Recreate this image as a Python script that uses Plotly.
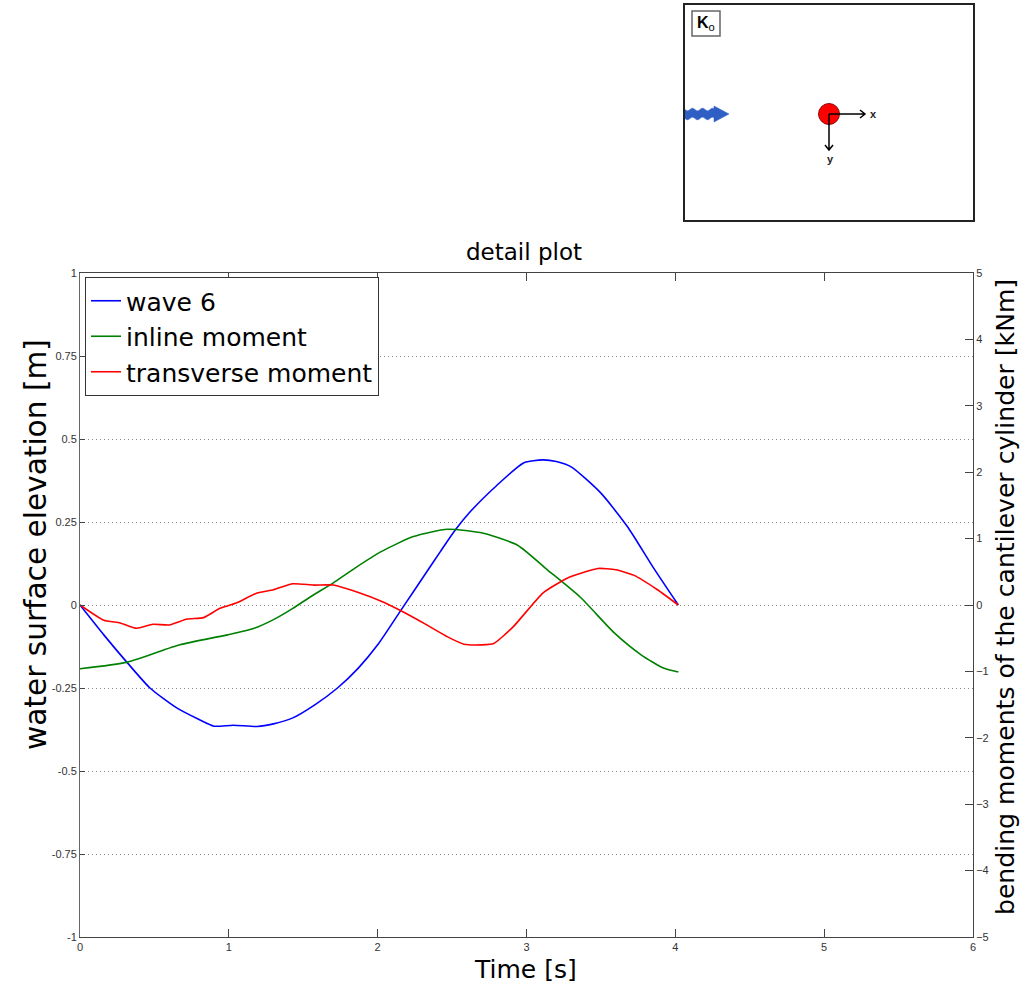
import numpy as np
import plotly.graph_objects as go

# ---------------- data ----------------
wave_t = [0, 0.16, 0.32, 0.47, 0.65, 0.8, 0.9, 1.03, 1.19, 1.3, 1.43, 1.58, 1.73, 1.87,
          2.0, 2.15, 2.24, 2.33, 2.42, 2.52, 2.62, 2.8, 2.98, 3.11, 3.2, 3.3, 3.5, 3.68, 3.85, 4.02]
wave = [0, -0.09, -0.175, -0.25, -0.31, -0.345, -0.365, -0.362, -0.366, -0.358, -0.34, -0.3,
        -0.25, -0.19, -0.12, -0.02, 0.04, 0.10, 0.16, 0.225, 0.28, 0.36, 0.428, 0.437, 0.432,
        0.416, 0.337, 0.235, 0.114, 0.0]

inline_t = [0, 0.32, 0.67, 0.99, 1.17, 1.3, 1.43, 1.56, 1.7, 1.85, 2.02, 2.24, 2.47, 2.71,
            2.94, 3.14, 3.36, 3.59, 3.77, 3.92, 4.02]
inline = [-0.96, -0.86, -0.6, -0.45, -0.35, -0.22, -0.05, 0.14, 0.33, 0.56, 0.8, 1.03, 1.14,
          1.08, 0.9, 0.53, 0.12, -0.42, -0.75, -0.95, -1.01]

transverse_t = [0, 0.16, 0.27, 0.38, 0.49, 0.6, 0.72, 0.83, 0.94, 1.05, 1.19, 1.3, 1.43, 1.57,
                1.7, 1.88, 2.02, 2.15, 2.33, 2.47, 2.58, 2.7, 2.78, 2.91, 3.11, 3.27, 3.48,
                3.6, 3.72, 3.88, 4.02]
transverse = [0, -0.23, -0.27, -0.35, -0.29, -0.3, -0.21, -0.19, -0.05, 0.03, 0.18, 0.23, 0.32,
              0.3, 0.3, 0.18, 0.06, -0.08, -0.3, -0.48, -0.59, -0.6, -0.58, -0.33, 0.18, 0.4,
              0.55, 0.53, 0.45, 0.23, 0.0]

x_ticks = [0, 1, 2, 3, 4, 5, 6]
y_ticks = [-1, -0.75, -0.5, -0.25, 0, 0.25, 0.5, 0.75, 1]
y_ticktext = ["-1", "-0.75", "-0.5", "-0.25", "0", "0.25", "0.5", "0.75", "1"]
y2_ticks = [-5, -4, -3, -2, -1, 0, 1, 2, 3, 4, 5]

series_names = ["wave 6", "inline moment", "transverse moment"]
series_colors = ["#0000ff", "#008000", "#ff0000"]

W, H = 1033, 987
FONT = "DejaVu Sans"
TICKFONT = dict(family="Liberation Sans, Arial", size=11, color="#333")

fig = go.Figure()
fig.add_trace(go.Scatter(x=wave_t, y=wave, mode="lines", name=series_names[0],
                         line=dict(color=series_colors[0], width=1.6, shape="spline", smoothing=0.6),
                         xaxis="x", yaxis="y"))
fig.add_trace(go.Scatter(x=inline_t, y=inline, mode="lines", name=series_names[1],
                         line=dict(color=series_colors[1], width=1.6, shape="spline", smoothing=0.6),
                         xaxis="x", yaxis="y2"))
fig.add_trace(go.Scatter(x=transverse_t, y=transverse, mode="lines", name=series_names[2],
                         line=dict(color=series_colors[2], width=1.6, shape="spline", smoothing=0.5),
                         xaxis="x", yaxis="y2"))

# ---------------- inset schematic (inset axis units) ----------------
shapes = []
annotations = []
# wavy blue arrow
cy = 109
xs = np.linspace(0, 29, 60)
top = cy - 4.5 + 1.3 * np.sin(2 * np.pi * xs / 10)
bot = cy + 4.5 + 1.3 * np.sin(2 * np.pi * xs / 10)
path = "M " + " L ".join(f"{x:.2f},{y:.2f}" for x, y in zip(xs, top))
path += f" L 29,{cy-8} L 44,{cy} L 29,{cy+8} "
path += " L " + " L ".join(f"{x:.2f},{y:.2f}" for x, y in zip(xs[::-1], bot[::-1])) + " Z"
shapes.append(dict(type="path", path=path, xref="x3", yref="y3",
                   fillcolor="#2f5fc4", line=dict(color="#2f5fc4", width=0.5)))
# red cylinder
shapes.append(dict(type="circle", xref="x3", yref="y3", x0=133.5, x1=154.5, y0=98.5, y1=119.5,
                   fillcolor="#ff0000", line=dict(color="#8a1010", width=1)))
# x axis arrow
shapes.append(dict(type="path", xref="x3", yref="y3",
                   path="M 144,109 L 180,109 M 175,105 L 180,109 L 175,113",
                   line=dict(color="black", width=1.5)))
# y axis arrow
shapes.append(dict(type="path", xref="x3", yref="y3",
                   path="M 144,109 L 144,145 M 140,140 L 144,145 L 148,140",
                   line=dict(color="black", width=1.5)))
# K_o box
shapes.append(dict(type="rect", xref="x3", yref="y3", x0=7, x1=35, y0=6, y1=31,
                   line=dict(color="#666", width=1.5), fillcolor="white"))
annotations.append(dict(x=21, y=18.5, xref="x3", yref="y3", showarrow=False,
                        text="<b>K</b><sub>o</sub>",
                        font=dict(family="Liberation Sans, Arial", size=16, color="black")))
annotations.append(dict(x=188, y=109, xref="x3", yref="y3", showarrow=False, text="<b>x</b>",
                        font=dict(family="Liberation Sans, Arial", size=11, color="#222")))
annotations.append(dict(x=145, y=154, xref="x3", yref="y3", showarrow=False, text="<b>y</b>",
                        font=dict(family="Liberation Sans, Arial", size=11, color="#222")))

# ---------------- titles ----------------
annotations.append(dict(x=524 / W, y=(H - 252) / H, xref="paper", yref="paper", showarrow=False,
                        text="detail plot", font=dict(family=FONT, size=23, color="black"),
                        xanchor="center", yanchor="middle"))
annotations.append(dict(x=525 / W, y=(H - 969) / H, xref="paper", yref="paper", showarrow=False,
                        text="Time [s]", font=dict(family=FONT, size=25, color="black"),
                        xanchor="center", yanchor="middle"))
annotations.append(dict(x=36 / W, y=(H - 545) / H, xref="paper", yref="paper", showarrow=False,
                        text="water surface elevation [m]", textangle=-90,
                        font=dict(family=FONT, size=29.6, color="black"),
                        xanchor="center", yanchor="middle"))
annotations.append(dict(x=1005 / W, y=(H - 597) / H, xref="paper", yref="paper", showarrow=False,
                        text="bending moments of the cantilever cylinder [kNm]", textangle=-90,
                        font=dict(family=FONT, size=25.1, color="black"),
                        xanchor="center", yanchor="middle"))

x_dom = [80 / W, 973 / W]
y_dom = [(H - 937) / H, (H - 273) / H]

fig.update_layout(
    width=W, height=H, autosize=False,
    margin=dict(l=0, r=0, t=0, b=0, pad=0),
    paper_bgcolor="white", plot_bgcolor="white",
    showlegend=True,
    legend=dict(x=85 / W, y=(H - 277) / H, xanchor="left", yanchor="top",
                bgcolor="white", bordercolor="#333", borderwidth=1,
                font=dict(family=FONT, size=25, color="black"),
                tracegroupgap=0, itemwidth=30),
    xaxis=dict(domain=x_dom, range=[0, 6], tickvals=x_ticks, ticks="inside", ticklen=8,
               tickcolor="#444", showline=True, linecolor="#444", linewidth=1, mirror="ticks",
               showgrid=False, zeroline=False, tickfont=TICKFONT, anchor="y", automargin=False),
    yaxis=dict(domain=y_dom, range=[-1, 1], tickvals=y_ticks, ticktext=y_ticktext,
               ticks="inside", ticklen=5, tickcolor="#444", showline=True, linecolor="#666",
               linewidth=1, showgrid=True, gridcolor="#888", griddash="1px,3px", gridwidth=1,
               zeroline=False, tickfont=TICKFONT, anchor="x", automargin=False),
    yaxis2=dict(overlaying="y", side="right", range=[-5, 5], tickvals=y2_ticks,
                ticks="inside", ticklen=8, tickcolor="#444", showline=True, linecolor="#444",
                linewidth=1, showgrid=False, zeroline=False, tickfont=TICKFONT, anchor="x",
                automargin=False),
    xaxis3=dict(domain=[685 / W, 973 / W], range=[0, 288], showline=True, mirror=True,
                linecolor="#222", linewidth=2, showticklabels=False, ticks="", showgrid=False,
                zeroline=False, anchor="y3", fixedrange=True, automargin=False),
    yaxis3=dict(domain=[(H - 220) / H, (H - 5) / H], range=[215, 0], showline=True, mirror=True,
                linecolor="#222", linewidth=2, showticklabels=False, ticks="", showgrid=False,
                zeroline=False, anchor="x3", fixedrange=True, automargin=False),
    shapes=shapes,
    annotations=annotations,
)

fig.write_html("out.html")
